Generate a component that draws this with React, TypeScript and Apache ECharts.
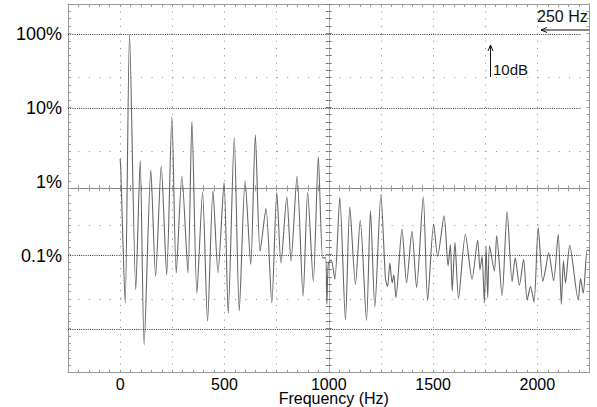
import { useEffect, useRef } from 'react';
import * as echarts from 'echarts';

// Spectrum: frequency (Hz) and level in dB relative to 100% (10 dB per decade)
const FREQ_HZ = [
  0, 3, 24, 45, 75, 96, 115, 147, 170, 197, 223, 248, 269, 296, 325, 344, 368, 395, 419, 445,
  469, 498, 518, 547, 571, 599, 626, 648, 671, 699, 727, 751, 771, 799, 819, 848, 877, 899, 926, 950,
  971, 985, 991, 998, 1012, 1029, 1053, 1080, 1101, 1128, 1151, 1181, 1200, 1221, 1250, 1272, 1282, 1293, 1304, 1312,
  1322, 1351, 1373, 1399, 1421, 1453, 1474, 1503, 1522, 1553, 1572, 1583, 1592, 1605, 1622, 1655, 1687, 1714, 1725, 1735,
  1746, 1754, 1762, 1771, 1794, 1805, 1831, 1855, 1879, 1894, 1914, 1934, 1951, 1967, 1984, 2004, 2026, 2039, 2054, 2078,
  2100, 2115, 2125, 2135, 2155, 2196, 2207, 2220, 2239, 2250,
];
const LEVEL_DB = [
  -16.9, -18.3, -36.4, 0, -34.6, -17.1, -42.1, -18.4, -32.8, -17.8, -32.6, -11.2, -32.3, -19.2, -32.3, -11.8, -35.1, -21.4, -38.9, -21.2,
  -32.3, -20.1, -37.8, -14.0, -37.5, -19.8, -31.2, -13.6, -29.4, -23.6, -36.4, -21.4, -31.0, -22.0, -30.7, -19.2, -35.5, -21.4, -33.5, -16.6,
  -30.3, -30.3, -36.6, -31.0, -30.6, -33.2, -22.1, -38.7, -23.4, -33.9, -25.2, -38.8, -23.9, -37.0, -21.7, -33.2, -34.2, -31.0, -33.7, -32.6,
  -35.7, -26.4, -33.7, -26.7, -34.3, -22.0, -36.1, -25.7, -30.1, -24.6, -31.4, -28.5, -34.8, -28.2, -35.8, -27.1, -33.2, -27.9, -31.9, -30.1,
  -36.4, -28.7, -35.7, -28.7, -32.1, -27.3, -35.4, -24.0, -33.5, -30.3, -34.0, -30.5, -36.0, -34.2, -36.3, -26.2, -33.5, -31.9, -29.6, -33.4,
  -27.1, -36.6, -30.7, -33.7, -28.6, -36.0, -33.1, -35.1, -29.2, -29.4,
];

const X_MIN = -250;
const X_MAX = 2250;
const X_DIV = 250;
const X_LABEL_HZ = [0, 500, 1000, 1500, 2000];

const Y_MIN = -45.87;
const Y_MAX = 4.13;
const Y_DIV = 10;
const Y_LABEL_DB = [0, -10, -20, -30];
const Y_LABEL_TEXT = ['100%', '10%', '1%', '0.1%'];
const DECADE_LINE_DB = [0, -10, -30, -40];
const DECADE_LINE_END_HZ = 2210;

const FONT = '"Liberation Sans", Arial, sans-serif';
const FRAME = '#9a9a9a';

export default function App() {
  const ref = useRef<HTMLDivElement>(null);
  useEffect(() => {
    document.body.style.margin = '0';
    const chart = echarts.init(ref.current!, null, { renderer: 'svg' });
    const frameX = (position: string, extra: any = {}) => ({
      type: 'value', min: X_MIN, max: X_MAX, interval: X_DIV, position,
      axisLine: { show: true, onZero: false, lineStyle: { color: FRAME, width: 1 } },
      axisTick: { show: true, inside: true, length: 3, lineStyle: { color: FRAME } },
      minorTick: { show: true, splitNumber: 5, length: 3, lineStyle: { color: FRAME } },
      axisLabel: { show: false },
      splitLine: { show: false },
      ...extra,
    });
    const frameY = (position: string, extra: any = {}) => ({
      type: 'value', min: Y_MIN, max: Y_MAX, interval: Y_DIV, position,
      axisLine: { show: true, onZero: false, lineStyle: { color: FRAME, width: 1 } },
      axisTick: { show: true, inside: true, length: 3, lineStyle: { color: FRAME } },
      minorTick: { show: true, splitNumber: 10, length: 3, lineStyle: { color: FRAME } },
      axisLabel: { show: false },
      splitLine: { show: false },
      ...extra,
    });
    chart.setOption({
      animation: false,
      backgroundColor: '#ffffff',
      grid: { left: 68, right: 7.5, top: 4, bottom: 34.3, containLabel: false, outerBoundsMode: 'none' },
      xAxis: [
        frameX('bottom', {
          axisLabel: {
            show: true, margin: 5, fontSize: 16, lineHeight: 14, color: '#000', fontFamily: FONT,
            formatter: (v: number) => (X_LABEL_HZ.some((t) => Math.abs(t - v) < 1e-6) ? String(v) : ''),
          },
          splitLine: { show: true, lineStyle: { color: '#8c8c8c', width: 1, type: [1, 6.34] } },
          name: 'Frequency (Hz)', nameLocation: 'middle', nameGap: 19, nameMoveOverlap: false,
          nameTextStyle: { fontSize: 16, lineHeight: 14, color: '#000', fontFamily: FONT, padding: [0, 0, 0, 10] },
        }),
        frameX('top'),
        { type: 'value', min: -1, max: 1, show: false },
        frameX('bottom', {
          axisLine: { show: true, onZero: true, onZeroAxisIndex: 3, lineStyle: { color: '#8a8a8a', width: 1 } },
        }),
        frameX('top', {
          axisLine: { show: false, onZero: true, onZeroAxisIndex: 3 },
        }),
      ],
      yAxis: [
        frameY('left', {
          splitLine: { show: true, lineStyle: { color: '#8c8c8c', width: 1, type: [1, 9.44] } },
        }),
        frameY('right'),
        {
          type: 'value', min: Y_MIN, max: Y_MAX, position: 'left', splitNumber: 5,
          axisLine: { show: false, onZero: false }, axisTick: { show: false },
          splitLine: { show: false },
          axisLabel: {
            show: true, margin: 6, fontSize: 18, color: '#000', fontFamily: FONT,
            formatter: (v: number) => {
              const i = Y_LABEL_DB.findIndex((t) => Math.abs(t - v) < 1e-6);
              return i >= 0 ? Y_LABEL_TEXT[i] : '';
            },
          },
        },
        { type: 'value', min: -1, max: 1, show: false },
        frameY('left', {
          axisLine: { show: true, onZero: true, onZeroAxisIndex: 2, lineStyle: { color: '#b0b0b0', width: 1 } },
          axisTick: { show: true, inside: true, length: 3, lineStyle: { color: '#777' } },
          minorTick: { show: true, splitNumber: 10, length: 3, lineStyle: { color: '#777' } },
        }),
        frameY('right', {
          axisLine: { show: false, onZero: true, onZeroAxisIndex: 2 },
          axisTick: { show: true, inside: true, length: 3, lineStyle: { color: '#777' } },
          minorTick: { show: true, splitNumber: 10, length: 3, lineStyle: { color: '#777' } },
        }),
      ],
      series: [
        {
          type: 'line', xAxisIndex: 0, yAxisIndex: 0,
          data: FREQ_HZ.map((f, i) => [f, LEVEL_DB[i]]),
          showSymbol: false, symbol: 'none', clip: true,
          smooth: 0.25,
          lineStyle: { color: '#666', width: 1.1 },
          emphasis: { disabled: true },
          markLine: {
            silent: true, symbol: ['none', 'none'], label: { show: false },
            lineStyle: { color: '#333', width: 1, type: [1, 1.2] },
            emphasis: { disabled: true },
            data: DECADE_LINE_DB.map((v) => [{ coord: [X_MIN, v] }, { coord: [DECADE_LINE_END_HZ, v] }]),
          },
        },
      ],
      graphic: [
        { type: 'text', left: 537, top: 8, style: { text: '250 Hz', fontSize: 16, fontFamily: FONT, fill: '#111' } },
        { type: 'line', shape: { x1: 589, y1: 30, x2: 541, y2: 30 }, style: { stroke: '#111', lineWidth: 1 } },
        { type: 'polyline', shape: { points: [[547, 27.5], [541, 30], [547, 32.5]] }, style: { stroke: '#111', lineWidth: 1, fill: null } },
        { type: 'text', left: 493, top: 62, style: { text: '10dB', fontSize: 15, fontFamily: FONT, fill: '#111' } },
        { type: 'line', shape: { x1: 490.5, y1: 77, x2: 490.5, y2: 45 }, style: { stroke: '#111', lineWidth: 1 } },
        { type: 'polyline', shape: { points: [[488, 51], [490.5, 45], [493, 51]] }, style: { stroke: '#111', lineWidth: 1, fill: null } },
      ],
    });
    return () => chart.dispose();
  }, []);
  return <div ref={ref} style={{ width: 597, height: 407 }} />;
}
